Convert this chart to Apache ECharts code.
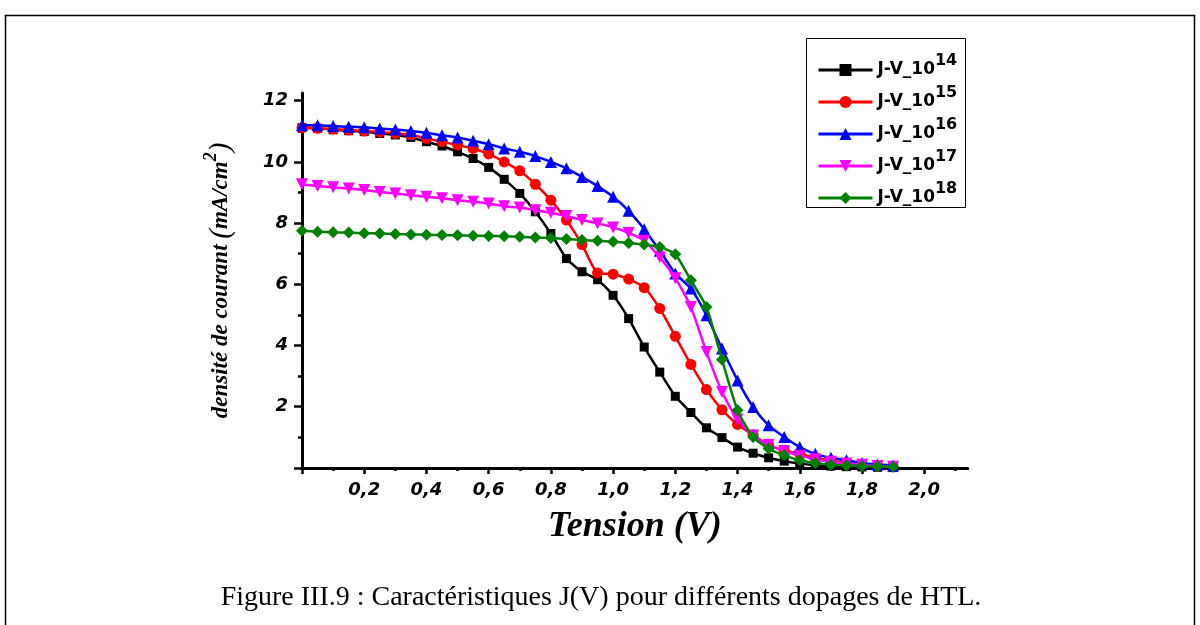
<!DOCTYPE html>
<html><head><meta charset="utf-8">
<script src="https://cdn.jsdelivr.net/npm/echarts@6/dist/echarts.min.js"></script>
<style>html,body{margin:0;padding:0;background:#fff}#c{width:1200px;height:625px}</style>
</head><body><div id="c"></div>
<script>
// ---- data ----
const voltage = [0,0.05,0.1,0.15,0.2,0.25,0.3,0.35,0.4,0.45,0.5,0.55,0.6,0.65,0.7,0.75,0.8,0.85,0.9,0.95,
  1.0,1.05,1.1,1.15,1.2,1.25,1.3,1.35,1.4,1.45,1.5,1.55,1.6,1.65,1.7,1.75,1.8,1.85,1.9];
const j_1e14 = [11.12,11.10,11.05,11.02,10.99,10.93,10.88,10.80,10.66,10.52,10.33,10.11,9.82,9.43,8.97,8.37,7.66,6.84,6.41,6.15,
  5.64,4.88,3.95,3.13,2.34,1.81,1.31,0.99,0.68,0.48,0.33,0.22,0.14,0.09,0.06,0.04,0.03,0.02,0.01];
const j_1e15 = [11.12,11.10,11.07,11.04,11.01,10.98,10.93,10.88,10.77,10.66,10.55,10.44,10.26,10.00,9.71,9.27,8.75,8.10,7.30,6.37,
  6.33,6.17,5.89,5.21,4.30,3.38,2.56,1.90,1.42,1.08,0.74,0.57,0.46,0.33,0.24,0.17,0.12,0.08,0.05];
const j_1e16 = [11.20,11.20,11.17,11.15,11.13,11.09,11.06,11.01,10.95,10.87,10.80,10.69,10.58,10.44,10.33,10.19,10.00,9.79,9.51,9.21,
  8.86,8.40,7.80,7.10,6.35,5.86,4.99,3.90,2.86,1.99,1.39,1.01,0.68,0.46,0.33,0.25,0.16,0.11,0.08];
const j_1e17 = [9.27,9.21,9.17,9.13,9.08,9.02,8.97,8.91,8.86,8.81,8.75,8.70,8.64,8.55,8.51,8.42,8.34,8.23,8.10,7.99,
  7.86,7.68,7.42,6.88,6.20,5.26,3.79,2.48,1.58,1.06,0.75,0.55,0.40,0.28,0.20,0.14,0.10,0.06,0.04];
const j_1e18 = [7.75,7.72,7.70,7.69,7.67,7.66,7.64,7.63,7.62,7.61,7.60,7.59,7.58,7.57,7.55,7.53,7.51,7.48,7.45,7.42,
  7.39,7.35,7.30,7.22,6.98,6.13,5.26,3.54,1.88,1.01,0.63,0.41,0.25,0.16,0.10,0.08,0.06,0.05,0.04];
const seriesBase = 'J-V_10';
const seriesExp = ['14','15','16','17','18'];
const xMajorTicks = [0,0.2,0.4,0.6,0.8,1.0,1.2,1.4,1.6,1.8,2.0];
const xLabels = [0.2,0.4,0.6,0.8,1.0,1.2,1.4,1.6,1.8,2.0];
const xMinorTicks = [0.1,0.3,0.5,0.7,0.9,1.1,1.3,1.5,1.7,1.9,2.1];
const yMajorTicks = [0,2,4,6,8,10,12];
const yLabels = [2,4,6,8,10,12];
const yMinorTicks = [1,3,5,7,9,11];
const captionText = 'Figure III.9 : Caractéristiques J(V) pour différents dopages de HTL.';

// ---- chart ----
const seriesData = [j_1e14, j_1e15, j_1e16, j_1e17, j_1e18];
const colors = ['#000000', '#ff0000', '#0000ff', '#ff00ff', '#008000'];
const symbols = ['rect', 'circle', 'triangle', 'triangle', 'diamond'];
const symbolRot = [0, 0, 0, 180, 0];
const symbolSizes = [9, 11, 12, 12, 12];
const XMAX = 2.14, YMAX = 12.25;

const chart = echarts.init(document.getElementById('c'), null, {renderer: 'canvas'});
const axisCol = '#000';
const tickFont = {fontFamily: 'DejaVu Sans', fontWeight: 'bold', fontStyle: 'italic', fontSize: 18, color: '#000'};

const series = seriesData.map((arr, k) => ({
  name: seriesBase + '^' + seriesExp[k],
  type: 'line',
  xAxisIndex: 0, yAxisIndex: 0,
  data: voltage.map((v, i) => [v, arr[i]]),
  color: colors[k],
  symbol: symbols[k],
  symbolRotate: symbolRot[k],
  symbolSize: symbolSizes[k],
  showAllSymbol: true,
  smooth: 0.2,
  lineStyle: {width: 2.5, color: colors[k]},
  itemStyle: {color: colors[k]},
  animation: false,
  z: 2 + k
}));

const option = {
  backgroundColor: '#fff',
  animation: false,
  grid: {left: 302, top: 467.9 - 30.6 * YMAX, width: 311.1 * XMAX, height: 30.6 * YMAX, containLabel: false},
  xAxis: [{
    type: 'value', min: 0, max: XMAX, position: 'bottom',
    name: 'Tension (V)', nameLocation: 'middle', nameGap: 41,
    nameTextStyle: {fontFamily: 'Liberation Serif', fontWeight: 'bold', fontStyle: 'italic', fontSize: 36, color: '#000'},
    axisLine: {show: true, onZero: false, lineStyle: {color: axisCol, width: 3}},
    axisTick: {show: true, customValues: xMajorTicks, length: 6, lineStyle: {color: axisCol, width: 2.5}},
    axisLabel: Object.assign({customValues: xLabels, margin: 13,
      formatter: v => v.toFixed(1).replace('.', ',')}, tickFont),
    splitLine: {show: false}
  }, {
    type: 'value', min: 0, max: XMAX, position: 'bottom',
    axisLine: {show: false},
    axisTick: {show: true, customValues: xMinorTicks, length: 3, lineStyle: {color: axisCol, width: 2.5}},
    axisLabel: {show: false},
    splitLine: {show: false}
  }],
  yAxis: [{
    type: 'value', min: 0, max: YMAX, position: 'left',
    name: '{t|densité de courant }{p|(}{t|mA/cm}{s|2}{p|)}',
    nameLocation: 'middle', nameGap: 68,
    nameTextStyle: {
      fontFamily: 'Liberation Serif', fontWeight: 'bold', fontStyle: 'italic', fontSize: 23, color: '#000',
      rich: {
        t: {fontFamily: 'Liberation Serif', fontWeight: 'bold', fontStyle: 'italic', fontSize: 23, color: '#000', lineHeight: 26},
        p: {fontFamily: 'Liberation Serif', fontWeight: 'normal', fontStyle: 'italic', fontSize: 29, color: '#000', lineHeight: 26},
        s: {fontFamily: 'Liberation Serif', fontWeight: 'bold', fontStyle: 'italic', fontSize: 18, color: '#000', lineHeight: 26, padding: [0, 0, 20, 0]}
      }
    },
    axisLine: {show: true, onZero: false, lineStyle: {color: axisCol, width: 3}},
    axisTick: {show: true, customValues: yMajorTicks, length: 8, lineStyle: {color: axisCol, width: 2.5}},
    axisLabel: Object.assign({customValues: yLabels, margin: 14}, tickFont),
    splitLine: {show: false}
  }, {
    type: 'value', min: 0, max: YMAX, position: 'left',
    axisLine: {show: false},
    axisTick: {show: true, customValues: yMinorTicks, length: 4, lineStyle: {color: axisCol, width: 2.5}},
    axisLabel: {show: false},
    splitLine: {show: false}
  }],
  legend: {
    orient: 'vertical', left: 817, top: 53, padding: 0,
    itemWidth: 54, itemHeight: 15, itemGap: -2,
    data: series.map(s => s.name),
    lineStyle: {width: 3},
    formatter: name => {
      const parts = name.split('^');
      return '{m|' + parts[0] + '}{s|' + parts[1] + '}';
    },
    textStyle: {
      color: '#000',
      rich: {
        m: {fontFamily: 'DejaVu Sans', fontWeight: 'bold', fontSize: 17, color: '#000', lineHeight: 18},
        s: {fontFamily: 'DejaVu Sans', fontWeight: 'bold', fontSize: 16, color: '#000', lineHeight: 18, padding: [0, 0, 18, 0]}
      }
    }
  },
  graphic: [
    {type: 'rect', silent: true, z: 0, shape: {x: 5.5, y: 15.5, width: 1189, height: 640},
      style: {fill: 'none', stroke: '#000', lineWidth: 1.5}},
    {type: 'rect', silent: true, z: 0, shape: {x: 806.5, y: 38.5, width: 159, height: 169},
      style: {fill: '#fff', stroke: '#000', lineWidth: 1}},
    {type: 'text', silent: true, x: 601, y: 598,
      style: {text: captionText, fontFamily: 'Liberation Serif', fontSize: 28, fill: '#000', align: 'center', verticalAlign: 'middle'}}
  ],
  series: series
};
chart.setOption(option);
</script>
</body></html>
